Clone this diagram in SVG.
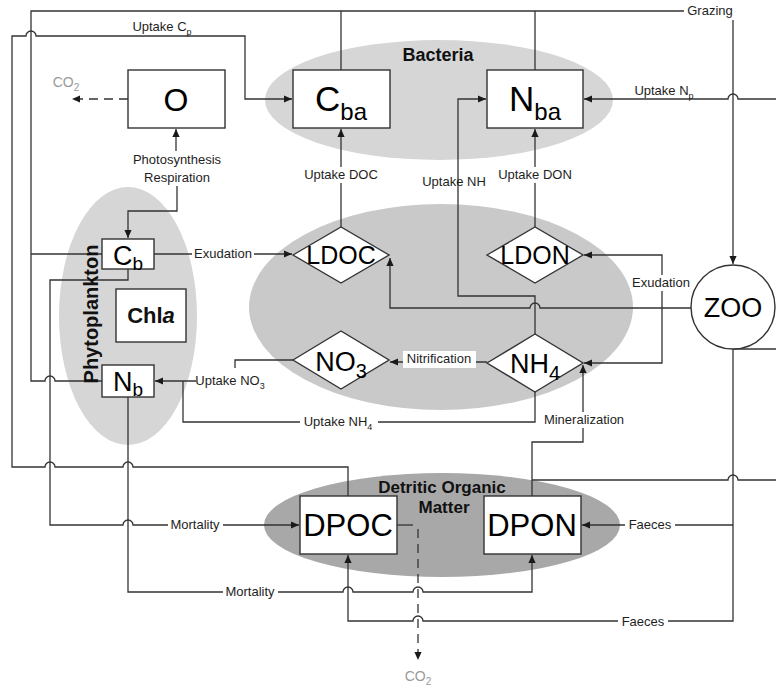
<svg xmlns="http://www.w3.org/2000/svg" width="776" height="688" viewBox="0 0 776 688">
<defs>
<marker id="arr" viewBox="0 0 10 10" refX="10" refY="5" markerWidth="9" markerHeight="8" markerUnits="userSpaceOnUse" orient="auto">
<path d="M0,0.5 L10,5 L0,9.5 z" fill="#1a1a1a"/>
</marker>
<style>
.ln{fill:none;stroke:#333;stroke-width:1.3}
.dash{fill:none;stroke:#333;stroke-width:1.3;stroke-dasharray:9,6}
.box{fill:#fff;stroke:#333;stroke-width:1.4}
.nt{font-family:"Liberation Sans",Arial,sans-serif;fill:#000;text-anchor:middle}
.lb{font-family:"Liberation Sans",Arial,sans-serif;font-size:13px;fill:#1e1e1e;text-anchor:middle}
.co{font-family:"Liberation Sans",Arial,sans-serif;font-size:14px;fill:#9a9a9a;text-anchor:middle}
.gt{font-family:"Liberation Sans",Arial,sans-serif;font-weight:bold;fill:#111;text-anchor:middle}
.bg{fill:#fff}
</style>
</defs>
<rect width="776" height="688" fill="#fff"/>

<g id="bacteria"><ellipse cx="439" cy="100" rx="174" ry="60" fill="#d6d6d6"/><text class="gt" x="438" y="61" font-size="18">Bacteria</text></g>
<g id="phytoplankton"><ellipse cx="128" cy="316" rx="69" ry="129" fill="#d6d6d6"/></g>
<g id="dom-pool"><ellipse cx="441" cy="307" rx="192" ry="103" fill="#c9c9c9"/></g>
<g id="detritic"><ellipse cx="442" cy="525" rx="178" ry="52" fill="#a8a8a8"/></g>

<g id="connectors">
<path class="ln" d="M684,11 H31 V381 H45 A5,5 0 0 1 55,381 H102"/>
<path class="ln" d="M31,254 H102"/>
<path class="ln" d="M341,11 V70"/>
<path class="ln" d="M535,11 V70"/>
<path class="ln" d="M733,20 V264" marker-end="url(#arr)"/>
<path class="ln" d="M348,496 V467 H133 A5,5 0 0 0 123,467 H55 A5,5 0 0 0 45,467 H12 V36 H26 A5,5 0 0 1 36,36 H245 V99 H292" marker-end="url(#arr)"/>
<path class="dash" d="M128,99 H72" marker-end="url(#arr)"/>
<path class="ln" d="M176,151 V129" marker-end="url(#arr)"/>
<path class="ln" d="M177,186 V211 H128 V238" marker-end="url(#arr)"/>
<path class="ln" d="M341,227 V129" marker-end="url(#arr)"/>
<path class="ln" d="M535,227 V129" marker-end="url(#arr)"/>
<path class="ln" d="M535,334 V296 H458 V99 H486" marker-end="url(#arr)"/>
<path class="ln" d="M776,99 H738 A5,5 0 0 0 728,99 H584" marker-end="url(#arr)"/>
<path class="ln" d="M691,308 H540 A5,5 0 0 0 530,308 H390 V258" marker-end="url(#arr)"/>
<path class="ln" d="M662,308 V255 H584" marker-end="url(#arr)"/>
<path class="ln" d="M662,308 V363 H584" marker-end="url(#arr)"/>
<path class="ln" d="M487,362 H390" marker-end="url(#arr)"/>
<path class="ln" d="M293,360 H235 V368"/>
<path class="ln" d="M197,381 H155" marker-end="url(#arr)"/>
<path class="ln" d="M535,392 V422 H183 V381"/>
<path class="ln" d="M154,254 H292" marker-end="url(#arr)"/>
<path class="ln" d="M128,269 V280 H50 V525 H123 A5,5 0 0 1 133,525 H299" marker-end="url(#arr)"/>
<path class="ln" d="M128,397 V592 H343 A5,5 0 0 1 353,592 H413 A5,5 0 0 1 423,592 H532 V555" marker-end="url(#arr)"/>
<path class="ln" d="M733,349 V621 H423 A5,5 0 0 0 413,621 H348 V555" marker-end="url(#arr)"/>
<path class="ln" d="M733,525 H582" marker-end="url(#arr)"/>
<path class="ln" d="M733,349 H776"/>
<path class="ln" d="M532,496 V442 H583 V365" marker-end="url(#arr)"/>
<path class="ln" d="M532,480 H728 A5,5 0 0 1 738,480 H776"/>
<path class="ln" d="M397,525 H413"/>
<path class="dash" d="M418,529 V660" marker-end="url(#arr)"/>
</g>

<g id="labels">
<text class="lb" x="162" y="31">Uptake C<tspan font-size="9" dy="4">p</tspan></text>
<text class="lb" x="664" y="95">Uptake N<tspan font-size="9" dy="4">p</tspan></text>
<rect class="bg" x="684" y="3" width="50" height="15"/>
<text class="lb" x="710" y="15">Grazing</text>
<text class="co" x="66" y="87">CO<tspan font-size="10" dy="4">2</tspan></text>
<rect class="bg" x="121" y="151" width="110" height="35"/>
<text class="lb" x="177" y="164">Photosynthesis</text>
<text class="lb" x="177" y="182">Respiration</text>
<rect class="bg" x="302" y="167" width="78" height="16"/>
<text class="lb" x="341" y="179">Uptake DOC</text>
<rect class="bg" x="494" y="167" width="82" height="16"/>
<text class="lb" x="535" y="179">Uptake DON</text>
<text class="lb" x="454" y="186">Uptake NH</text>
<rect class="bg" x="192" y="246" width="62" height="16"/>
<text class="lb" x="223" y="258">Exudation</text>
<rect class="bg" x="630" y="275" width="63" height="16"/>
<text class="lb" x="661" y="287">Exudation</text>
<rect class="bg" x="403" y="351" width="73" height="17"/>
<text class="lb" x="439" y="363">Nitrification</text>
<rect class="bg" x="196" y="373" width="74" height="18"/>
<text class="lb" x="230" y="385">Uptake NO<tspan font-size="9" dy="4">3</tspan></text>
<rect class="bg" x="300" y="414" width="78" height="18"/>
<text class="lb" x="338" y="426">Uptake NH<tspan font-size="9" dy="4">4</tspan></text>
<rect class="bg" x="540" y="412" width="88" height="16"/>
<text class="lb" x="584" y="424">Mineralization</text>
<rect class="bg" x="168" y="517" width="55" height="16"/>
<text class="lb" x="195" y="529">Mortality</text>
<rect class="bg" x="223" y="584" width="55" height="16"/>
<text class="lb" x="250" y="596">Mortality</text>
<rect class="bg" x="625" y="517" width="50" height="16"/>
<text class="lb" x="650" y="529">Faeces</text>
<rect class="bg" x="618" y="613" width="50" height="16"/>
<text class="lb" x="643" y="626">Faeces</text>
<text class="co" x="418" y="681">CO<tspan font-size="10" dy="4">2</tspan></text>
<text class="gt" x="98" y="314" font-size="20" transform="rotate(-90 98 314)">Phytoplankton</text>
<text class="gt" x="442" y="493" font-size="17">Detritic Organic</text>
<text class="gt" x="444" y="513" font-size="17">Matter</text>
</g>

<g id="node-O"><rect class="box" x="128" y="70" width="97" height="58"/><text class="nt" x="176" y="111" font-size="32">O</text></g>
<g id="node-Cba"><rect class="box" x="293" y="70" width="97" height="58"/><text class="nt" x="341" y="111" font-size="35">C<tspan font-size="24" dy="9">ba</tspan></text></g>
<g id="node-Nba"><rect class="box" x="487" y="70" width="96" height="58"/><text class="nt" x="535" y="111" font-size="35">N<tspan font-size="24" dy="9">ba</tspan></text></g>
<g id="node-Cb"><rect class="box" x="102" y="239" width="52" height="30"/><text class="nt" x="128" y="265" font-size="27">C<tspan font-size="19" dy="5">b</tspan></text></g>
<g id="node-Chla"><rect class="box" x="116" y="289" width="70" height="53"/><text class="gt" x="151" y="323" font-size="22">Chl<tspan font-style="italic">a</tspan></text></g>
<g id="node-Nb"><rect class="box" x="102" y="365" width="52" height="32"/><text class="nt" x="128" y="391" font-size="27">N<tspan font-size="19" dy="5">b</tspan></text></g>
<g id="node-LDOC"><polygon class="box" points="293,255 341,227 389,255 341,283"/><text class="nt" x="341" y="264" font-size="25">LDOC</text></g>
<g id="node-LDON"><polygon class="box" points="487,255 535,227 583,255 535,283"/><text class="nt" x="535" y="264" font-size="25">LDON</text></g>
<g id="node-NO3"><polygon class="box" points="293,360 341,331 389,360 341,389"/><text class="nt" x="341" y="371" font-size="27">NO<tspan font-size="20" dy="7">3</tspan></text></g>
<g id="node-NH4"><polygon class="box" points="487,363 535,334 583,363 535,392"/><text class="nt" x="535" y="373" font-size="27">NH<tspan font-size="20" dy="7">4</tspan></text></g>
<g id="node-ZOO"><circle class="box" cx="733" cy="307" r="42"/><text class="nt" x="733" y="317" font-size="27">ZOO</text></g>
<g id="node-DPOC"><rect class="box" x="300" y="496" width="97" height="58"/><text class="nt" x="348" y="536" font-size="31">DPOC</text></g>
<g id="node-DPON"><rect class="box" x="484" y="496" width="97" height="58"/><text class="nt" x="532" y="536" font-size="31">DPON</text></g>
</svg>
